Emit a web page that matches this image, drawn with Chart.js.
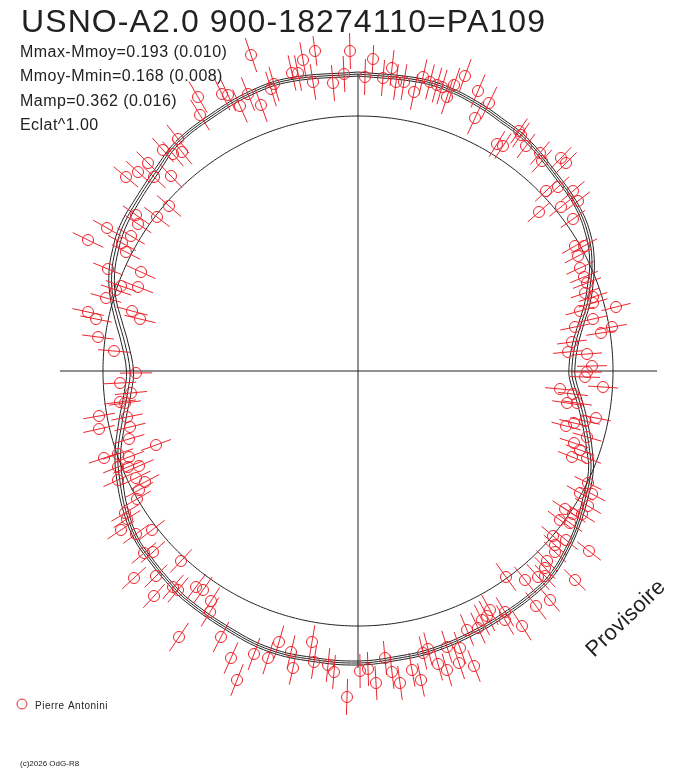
<!DOCTYPE html>
<html>
<head>
<meta charset="utf-8">
<script src="https://cdn.jsdelivr.net/npm/chart.js@4.4.1/dist/chart.umd.min.js"></script>
<style>html,body{margin:0;padding:0;background:#fff}</style>
</head>
<body>
<canvas id="lc" width="688" height="768"></canvas>
<script>
const title = 'USNO-A2.0 900-18274110=PA109';
const statLines = ['Mmax-Mmoy=0.193 (0.010)', 'Mmoy-Mmin=0.168 (0.008)', 'Mamp=0.362 (0.016)', 'Eclat^1.00'];
const observer = 'Pierre Antonini';
const stamp = '(c)2026 OdG-R8';
const watermark = 'Provisoire';

// fitted light curve: phase in degrees (clockwise from top), radius and 1-sigma
const fitPhase = [0, 11.5, 18, 25, 29.5, 36, 45.7, 53, 59, 64.6,
  70, 74, 79, 83.7, 89, 92.4, 98, 103, 109, 113.6,
  119.6, 125.5, 130.6, 136, 140.7, 148, 156, 165, 172, 180,
  189, 197.5, 206, 216.7, 222.4, 228.5, 233, 239, 245.4, 251,
  258, 265, 270, 276.9, 282, 286.8, 291.7, 296.5, 301.5, 307.7,
  315, 321.6, 330, 339, 347];
const fitR = [297, 297, 296, 292, 289, 286, 278, 274, 268, 259,
  247, 238, 226, 218, 214, 215, 224, 233, 245, 254,
  261, 269, 275, 281, 283, 284, 286, 289, 290, 292,
  292, 292.5, 289, 286, 283, 280, 278, 271, 262, 254,
  241, 231, 228, 235, 245, 256, 265, 271, 276, 279,
  284, 291, 294, 298, 299];
const fitSig = [2, 2, 2, 2, 2, 2, 2, 2, 2.5, 2.5,
  3, 3, 3, 3, 3, 3, 3, 3, 3, 2.5,
  2.5, 2, 2, 2, 2, 2, 2, 2, 2, 2,
  2, 2, 2, 2, 2, 2, 2, 2.5, 3, 3,
  3.5, 3.5, 3.5, 3.5, 3.5, 3, 3, 3, 3, 2.5,
  2.5, 2, 2, 2, 2];
const meanR = 255;

// measurements [x, y, error] (chart units, centre = 0)
const obsTop = [[-107,316,18],[-55,311,18],[-43,320,15],[-8,320,18],[15,312,14],[-66,298,18],[-60,298,18],
  [-45,289,18],[-25,288,18],[-14,297,18],[7,294,18],[25,293,18],[34,303,18],[38,289,18],[46,289,18],
  [65,294,18],[72,289,18],[56,279,18],[79,286,18],[84,284,18],[89,274,18],[96,286,18],[107,295,18],
  [120,280,18],[131,268,18],[117,253,18],[-87,282,18],[-84,287,18],[-97,266,18],[-110,277,18],
  [-118,265,18],[-130,276,18],[-136,277,18],[-160,274,18],[-158,256,18],[-180,232,18]];
const obsLeft = [[-195,221,16],[-185,217,16],[-176,219,16],[-210,208,16],[-220,199,16],[-204,194,16],
  [-232,194,16],[-187,195,16],[-189,165,16],[-201,154,16],[-222,156,16],[-220,147,16],[-251,143,16],
  [-270,131,17],[-227,135,16],[-236,128,16],[-232,119,16],[-250,102,16],[-217,99,16],[-237,85,16],
  [-220,84,16],[-242,81,16],[-252,73,16],[-270,59,16],[-262,52,16],[-226,60,16],[-218,52,16],
  [-260,34,16],[-244,20,16],[-222,-2,16],[-238,-12,16],[-227,-22,16],[-238,-31,16],[-233,-32,16],
  [-259,-45,16],[-231,-46,16],[-259,-58,16],[-228,-56,16],[-229,-68,16],[-202,-74,16],[-254,-87,16],
  [-240,-83,16],[-229,-86,16],[-240,-96,16],[-230,-96,16],[-219,-95,16],[-240,-109,16],[-222,-107,16],
  [-213,-111,16],[-219,-119,16],[-221,-128,16],[-233,-142,16],[-231,-148,16],[-237,-159,16],
  [-222,-163,16],[-206,-159,16],[-214,-182,16],[-205,-181,16],[-224,-207,16],[-202,-205,16],
  [-177,-190,16],[-204,-225,16],[-185,-216,16],[-180,-219,16],[-162,-216,16],[-155,-219,16],[-147,-230,16]];
const obsBottom = [[-148,-241,17],[-179,-266,17],[-137,-266,17],[-127,-287,17],[-121,-309,17],
  [-104,-283,17],[-90,-287,17],[-79,-271,17],[-67,-281,17],[-65,-297,17],[-46,-271,17],[-44,-291,17],
  [-30,-294,17],[-24,-301,17],[-11,-326,18],[2,-300,17],[10,-298,17],[18,-312,17],[27,-287,17],
  [34,-301,17],[42,-312,17],[54,-299,17],[63,-309,17],[65,-282,17],[70,-278,17],[80,-293,17],
  [89,-299,17],[89,-276,17],[102,-277,17],[101,-292,17],[116,-295,17],[109,-259,17],[120,-257,17],
  [124,-249,17],[132,-239,17],[129,-245,17],[147,-249,17],[147,-241,17],[164,-255,17],[148,-206,17],
  [167,-209,17],[178,-235,17],[180,-206,17]];
const obsRight = [[234,5,15],[229,-1,15],[227,-6,15],[245,-16,15],[202,-18,15],[215,-23,15],[209,-32,15],
  [219,-32,15],[238,-47,15],[227,-50,15],[208,-55,15],[216,-52,15],[229,-66,15],[216,-72,15],
  [222,-79,15],[214,-86,15],[229,-87,15],[230,-112,15],[222,-122,15],[234,-123,15],[207,-138,15],
  [230,-135,15],[215,-143,15],[202,-149,15],[212,-152,15],[224,-143,15],[195,-165,15],[208,-169,15],
  [197,-174,15],[197,-181,15],[231,-180,15],[189,-190,15],[187,-197,15],[187,-205,15],[217,-209,15],
  [192,-229,15],[139,227,15],[145,225,15],[161,240,15],[163,236,15],[168,225,15],[182,218,15],
  [184,210,15],[203,213,15],[208,208,15],[188,180,15],[200,184,15],[215,180,15],[220,170,15],
  [181,159,15],[203,164,15],[215,152,15],[217,125,15],[226,125,15],[220,115,15],[222,103,15],
  [226,94,15],[229,88,15],[227,78,15],[235,74,15],[235,68,15],[258,64,15],[222,60,15],[235,52,15],
  [254,44,15],[217,44,15],[243,38,15],[214,29,15],[210,19,15],[229,17,15]];

// axis cross extents and plotting window (chart units)
const axisX = [-298, 299];
const axisY = [-297, 297];
const xRange = [-318, 319];
const yRange = [-337, 351];

const red = 'rgb(236,36,44)';
const ink = '#222222';

function polar(deg, r) {
  const a = deg * Math.PI / 180;
  return {x: r * Math.sin(a), y: r * Math.cos(a)};
}

const obs = obsTop.concat(obsLeft, obsBottom, obsRight);
const obsPoints = obs.map(o => ({x: o[0], y: o[1]}));
const errSegs = [];
obs.forEach(o => {
  const r = Math.hypot(o[0], o[1]);
  const ux = o[0] / r, uy = o[1] / r;
  errSegs.push({x: o[0] - ux * o[2], y: o[1] - uy * o[2]});
  errSegs.push({x: o[0] + ux * o[2], y: o[1] + uy * o[2]});
  errSegs.push({x: null, y: null});
});

function fitLine(k) {
  const pts = fitPhase.map((p, i) => polar(p, fitR[i] + k * fitSig[i]));
  pts.push(pts[0]);
  return pts;
}

const circle = [];
for (let d = 0; d <= 360; d += 3) circle.push(polar(d, meanR));

const lineBase = {type: 'line', pointRadius: 0, borderWidth: 1, fill: false, spanGaps: false, clip: false};

const annotations = {
  id: 'annotations',
  afterDraw(chart) {
    const c = chart.ctx;
    c.save();
    c.fillStyle = ink;
    c.textBaseline = 'alphabetic';
    c.textAlign = 'left';
    c.font = '32px "Liberation Sans", Arial, sans-serif';
    c.letterSpacing = '1.1px';
    c.fillText(title, 21, 32);
    c.font = '16px "Liberation Sans", Arial, sans-serif';
    c.letterSpacing = '0.45px';
    statLines.forEach((s, i) => c.fillText(s, 20, 57 + i * 24.4));

    c.save();
    c.translate(594, 658);
    c.rotate(-44 * Math.PI / 180);
    c.font = '22px "Liberation Sans", Arial, sans-serif';
    c.letterSpacing = '0.3px';
    c.fillText(watermark, 0, 0);
    c.restore();

    c.strokeStyle = red;
    c.lineWidth = 1;
    c.beginPath();
    c.arc(22, 704, 5, 0, Math.PI * 2);
    c.stroke();
    c.font = '10px "Liberation Sans", Arial, sans-serif';
    c.letterSpacing = '0.5px';
    c.fillText(observer, 35, 709);
    c.font = '8px "Liberation Sans", Arial, sans-serif';
    c.letterSpacing = '0px';
    c.fillText(stamp, 20, 766);
    c.restore();
  }
};

new Chart(document.getElementById('lc'), {
  type: 'scatter',
  data: {
    datasets: [
      {type: 'scatter', data: obsPoints, pointRadius: 5.5, pointHoverRadius: 5.5, borderWidth: 1,
        borderColor: red, backgroundColor: 'rgba(0,0,0,0)', clip: false},
      Object.assign({}, lineBase, {data: errSegs, borderColor: red, tension: 0}),
      Object.assign({}, lineBase, {data: fitLine(-1), borderColor: ink, tension: 0.4}),
      Object.assign({}, lineBase, {data: fitLine(0), borderColor: ink, tension: 0.4}),
      Object.assign({}, lineBase, {data: fitLine(1), borderColor: ink, tension: 0.4}),
      Object.assign({}, lineBase, {data: circle, borderColor: ink, tension: 0.4}),
      Object.assign({}, lineBase, {data: [{x: axisX[0], y: 0}, {x: axisX[1], y: 0}], borderColor: ink}),
      Object.assign({}, lineBase, {data: [{x: 0, y: axisY[0]}, {x: 0, y: axisY[1]}], borderColor: ink})
    ]
  },
  options: {
    responsive: false,
    animation: false,
    devicePixelRatio: 1,
    layout: {padding: {left: 40, right: 11, top: 20, bottom: 60}},
    scales: {
      x: {type: 'linear', min: xRange[0], max: xRange[1], display: false},
      y: {type: 'linear', min: yRange[0], max: yRange[1], display: false}
    },
    plugins: {legend: {display: false}, tooltip: {enabled: false}}
  },
  plugins: [annotations]
});
</script>
</body>
</html>
